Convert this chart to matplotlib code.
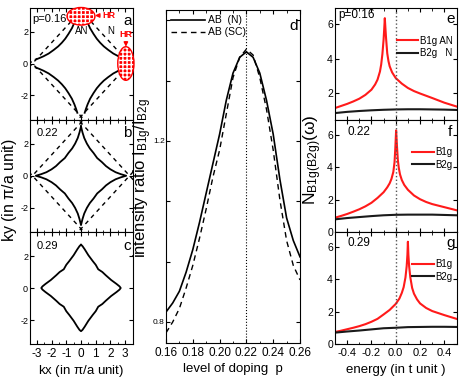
import numpy as np
import matplotlib
matplotlib.use("Agg")
import matplotlib.pyplot as plt
from matplotlib.patches import Ellipse

plt.rcParams['font.family'] = ['Liberation Sans', 'DejaVu Sans']
plt.rcParams['mathtext.default'] = 'regular'
plt.rcParams['hatch.linewidth'] = 1.0
plt.rcParams['axes.unicode_minus'] = False

# ---- Fermi surface data (one quadrant / one arc, the rest by symmetry) ----
# p = 0.16 : hole-like arc, upper-left quadrant
arc_a_x = [-3.08, -2.85, -2.55, -2.20, -1.85, -1.55, -1.30, -1.07, -0.85, -0.62, -0.45, -0.33, -0.25]
arc_a_y = [0.25, 0.33, 0.45, 0.62, 0.85, 1.07, 1.30, 1.55, 1.85, 2.20, 2.55, 2.85, 3.08]
# p = 0.22 : closed star, first quadrant
arc_b_x = [0.00, 0.10, 0.22, 0.40, 0.60, 0.85, 1.10, 1.42, 1.70, 2.00, 2.35, 2.70, 3.07]
arc_b_y = [3.07, 2.70, 2.35, 2.00, 1.70, 1.42, 1.10, 0.85, 0.60, 0.40, 0.22, 0.10, 0.00]
# p = 0.29 : closed rounded diamond, first quadrant
arc_c_x = [0.00, 0.10, 0.25, 0.50, 0.80, 1.00, 1.17, 1.45, 1.68, 2.05, 2.42, 2.62, 2.70]
arc_c_y = [2.70, 2.62, 2.42, 2.05, 1.68, 1.45, 1.17, 1.00, 0.80, 0.50, 0.25, 0.10, 0.00]
# dashed diamond (vertex) and overshoot
diamond_v = 3.3
diamond_ext = 0.25

# ---- panel d : intensity ratio vs doping ----
p_doping = [0.160, 0.165, 0.170, 0.175, 0.180, 0.185, 0.190, 0.195, 0.200, 0.205, 0.210,
            0.215, 0.220, 0.225, 0.230, 0.235, 0.240, 0.245, 0.250, 0.255, 0.260]
ratio_n = [0.822, 0.842, 0.868, 0.910, 0.960, 1.020, 1.085, 1.150, 1.215, 1.290, 1.350,
           1.385, 1.397, 1.385, 1.350, 1.290, 1.215, 1.115, 1.030, 0.980, 0.944]
ratio_sc = [0.776, 0.800, 0.830, 0.875, 0.925, 0.985, 1.050, 1.120, 1.180, 1.260, 1.340,
            1.385, 1.403, 1.390, 1.340, 1.270, 1.180, 1.070, 0.980, 0.925, 0.893]

# ---- panels e, f, g : Raman response vs energy ----
w_e = [-0.50, -0.45, -0.40, -0.35, -0.30, -0.25, -0.20, -0.17, -0.15, -0.13, -0.12, -0.11,
       -0.10, -0.095, -0.09, -0.085, -0.08, -0.07, -0.06, -0.05, -0.03, 0.0, 0.05, 0.10,
       0.15, 0.20, 0.30, 0.40, 0.50]
b1g_e = [1.14, 1.26, 1.38, 1.52, 1.68, 1.90, 2.20, 2.50, 2.78, 3.25, 3.65, 4.25,
         5.10, 5.70, 6.33, 5.75, 5.20, 4.30, 3.85, 3.55, 3.20, 2.87, 2.55, 2.30,
         2.12, 1.98, 1.72, 1.45, 1.23]
w_f = [-0.50, -0.45, -0.40, -0.35, -0.30, -0.25, -0.20, -0.15, -0.10, -0.07, -0.05, -0.035,
       -0.02, -0.01, -0.004, 0.003, 0.01, 0.017, 0.025, 0.035, 0.05, 0.07, 0.10, 0.15,
       0.20, 0.25, 0.30, 0.40, 0.50]
b1g_f = [0.88, 0.99, 1.11, 1.25, 1.40, 1.58, 1.80, 2.10, 2.45, 2.75, 3.00, 3.28,
         3.70, 4.30, 5.10, 6.26, 5.30, 4.45, 3.95, 3.55, 3.20, 2.90, 2.60, 2.25,
         2.02, 1.85, 1.72, 1.53, 1.34]
w_g = [-0.50, -0.45, -0.40, -0.35, -0.30, -0.25, -0.20, -0.15, -0.10, -0.05, 0.0, 0.03,
       0.05, 0.065, 0.08, 0.09, 0.096, 0.10, 0.104, 0.11, 0.12, 0.135, 0.15, 0.175,
       0.20, 0.25, 0.30, 0.40, 0.50]
b1g_g = [0.74, 0.82, 0.91, 1.00, 1.10, 1.22, 1.37, 1.55, 1.82, 2.10, 2.47, 2.80,
         3.15, 3.50, 4.10, 4.80, 5.50, 6.30, 5.50, 4.80, 4.10, 3.45, 3.10, 2.75,
         2.50, 2.22, 2.03, 1.78, 1.55]
w_b2g = [-0.5, -0.4, -0.3, -0.2, -0.1, 0.0, 0.1, 0.2, 0.3, 0.4, 0.5]
b2g_e = [0.85, 0.92, 0.97, 1.01, 1.04, 1.06, 1.07, 1.07, 1.06, 1.05, 1.03]
b2g_f = [0.78, 0.86, 0.92, 0.98, 1.03, 1.06, 1.07, 1.07, 1.07, 1.05, 1.03]
b2g_g = [0.70, 0.77, 0.83, 0.90, 0.97, 1.00, 1.04, 1.05, 1.06, 1.06, 1.05]

W, H = 463, 382
fig = plt.figure(figsize=(W / 100, H / 100), dpi=100)


def box(x0, y0, x1, y1):
    # pixel box -> figure fraction
    return [x0 / W, 1 - y1 / H, (x1 - x0) / W, (y1 - y0) / H]


def ticks_in(ax, size=7):
    ax.tick_params(direction='in', top=True, right=True, labelsize=size, length=3, pad=1.5)
    ax.tick_params(which='minor', direction='in', top=True, right=True, length=1.8)


# ---------------- left column ----------------
fs_axes = []
for i, (y0, y1) in enumerate([(7.5, 119.5), (119.5, 232), (232, 344)]):
    ax = fig.add_axes(box(29.5, y0, 132.5, y1))
    ax.set_xlim(-3.5, 3.5)
    ax.set_ylim(-3.5, 3.5)
    ax.set_yticks([-2, 0, 2])
    ax.set_xticks([-3, -2, -1, 0, 1, 2, 3])
    ax.set_xticks(np.arange(-3.5, 3.6, 0.5), minor=True)
    ticks_in(ax, 6.5)
    ax.tick_params(axis='y', pad=1)
    if i < 2:
        ax.tick_params(labelbottom=False)
    else:
        ax.tick_params(axis='x', labelsize=8.5, pad=3)
    fs_axes.append(ax)

lw_fs = 1.3
# panel a
ax = fs_axes[0]
for sx in (1, -1):
    for sy in (1, -1):
        ax.plot(np.multiply(arc_a_x, sx), np.multiply(arc_a_y, sy), color='black', lw=lw_fs)

# dashed diamonds (a, b)
for ax in fs_axes[:2]:
    v, e = diamond_v, diamond_ext
    for sx in (1, -1):
        for sy in (1, -1):
            ax.plot([sx * (v + e), sx * (-e)], [sy * (-e), sy * (v + e)],
                    ls=(0, (3, 3)), color='black', lw=1.0)

# panel b & c closed curves
for ax, xs, ys in [(fs_axes[1], arc_b_x, arc_b_y), (fs_axes[2], arc_c_x, arc_c_y)]:
    xs = np.array(xs)
    ys = np.array(ys)
    cx = np.concatenate([xs, xs[::-1], -xs, -xs[::-1]])
    cy = np.concatenate([ys, -ys[::-1], -ys, ys[::-1]])
    ax.plot(cx, cy, color='black', lw=lw_fs)

ax = fs_axes[0]
for (cx, cy, ew, eh) in [(0.0, 2.95, 1.9, 1.1), (3.05, 0.0, 1.1, 2.1)]:
    ax.add_patch(Ellipse((cx, cy), ew, eh, facecolor='red', edgecolor='white',
                         hatch='++++', lw=0, clip_on=False, zorder=5))
    ax.add_patch(Ellipse((cx, cy), ew, eh, facecolor='none', edgecolor='red',
                         lw=1.0, clip_on=False, zorder=6))
ax.annotate('HR', xy=(0.95, 3.0), xytext=(1.45, 3.0), color='red', fontsize=6.5,
            fontweight='bold', va='center', ha='left', annotation_clip=False,
            arrowprops=dict(arrowstyle='-|>', color='red', lw=1, mutation_scale=6,
                            shrinkA=0, shrinkB=0))
ax.annotate('HR', xy=(3.05, 1.05), xytext=(3.05, 1.8), color='red', fontsize=6.5,
            fontweight='bold', va='center', ha='center', annotation_clip=False,
            arrowprops=dict(arrowstyle='-|>', color='red', lw=1, mutation_scale=6,
                            shrinkA=0, shrinkB=0))
ax.text(0.05, 2.0, 'AN', fontsize=7, ha='center', va='center')
ax.text(2.0, 2.0, 'N', fontsize=7, ha='center', va='center')
ax.text(-3.3, 2.8, 'p=0.16', fontsize=8, ha='left', va='center')
ax.text(3.15, 2.65, 'a', fontsize=11, ha='center', va='center')
fs_axes[1].text(-3.0, 2.65, '0.22', fontsize=8, ha='left', va='center')
fs_axes[1].text(3.15, 2.65, 'b', fontsize=11, ha='center', va='center')
fs_axes[2].text(-3.0, 2.65, '0.29', fontsize=8, ha='left', va='center')
fs_axes[2].text(3.15, 2.65, 'c', fontsize=11, ha='center', va='center')
fs_axes[2].set_xlabel(r'kx (in $\pi$/a unit)', fontsize=9.5, labelpad=2)
fig.text(10 / W, 1 - 190 / H, r'ky (in $\pi$/a unit)', rotation=90, fontsize=11.5,
         ha='center', va='center')

# ---------------- panel d ----------------
axd = fig.add_axes(box(166, 10, 300, 343))
axd.plot(p_doping, ratio_n, color='black', lw=1.2, label='AB  (N)')
axd.plot(p_doping, ratio_sc, color='black', lw=1.0, ls=(0, (4, 3)), label='AB (SC)')
axd.axvline(0.22, color='black', ls=':', lw=0.8)
axd.set_xlim(0.16, 0.26)
axd.set_ylim(0.8 - 21 / 452.5, 1.2 + 131 / 452.5)
yt = [0.8 + k * 0.4 / 3 for k in range(6)]
axd.set_yticks(yt)
axd.set_yticklabels(['0.8', '', '', '1.2', '', ''])
axd.set_xticks([0.16, 0.18, 0.20, 0.22, 0.24, 0.26])
axd.set_xticklabels(['0.16', '0.18', '0.20', '0.22', '0.24', '0.26'])
axd.set_xticks(np.arange(0.16, 0.2601, 0.01), minor=True)
ticks_in(axd, 6)
axd.tick_params(axis='y', pad=1)
axd.tick_params(axis='x', labelsize=8.5, pad=3)
axd.legend(loc='upper left', frameon=False, fontsize=7.5, handlelength=3.2,
           borderaxespad=0.1, labelspacing=0.2, handletextpad=0.3)
axd.text(0.255, 1.455, 'd', fontsize=11, ha='center', va='center')
axd.set_xlabel('level of doping  p', fontsize=9.5, labelpad=3)
fig.text(143 / W, 1 - 178 / H, r'intensity ratio I$_{B1g}$/I$_{B2g}$', rotation=90,
         fontsize=12, ha='center', va='center')

# ---------------- panels e, f, g ----------------
rows = [
    (8.3, 120, w_e, b1g_e, b2g_e, ('B1g AN', 'B2g   N'), 'p=0.16', 'e', (0.45, 6.9), 0.94),
    (120, 232, w_f, b1g_f, b2g_f, ('B1g', 'B2g'), '0.22', 'f', (0.0, 6.9), 0.895),
    (232, 344, w_g, b1g_g, b2g_g, ('B1g', 'B2g'), '0.29', 'g', (0.0, 6.9), 0.90),
]
for i, (y0, y1, w, r, k, labs, ptxt, letter, ylim, ty) in enumerate(rows):
    ax = fig.add_axes(box(335, y0, 456.5, y1))
    ax.plot(w, r, color='#ff1a1a', lw=1.5, label=labs[0])
    ax.plot(w_b2g, k, color='#1a1a1a', lw=1.5, label=labs[1])
    ax.axvline(0.0, color='#555555', ls=':', lw=1.0)
    ax.set_xlim(-0.5, 0.5)
    ax.set_ylim(*ylim)
    ax.set_yticks([0, 2, 4, 6] if i else [2, 4, 6])
    ax.set_xticks([-0.4, -0.2, 0.0, 0.2, 0.4])
    ax.set_xticks(np.arange(-0.5, 0.51, 0.1), minor=True)
    ticks_in(ax, 7.5)
    if i < 2:
        ax.tick_params(labelbottom=False)
    else:
        ax.tick_params(axis='x', labelsize=8, pad=3)
        ax.set_xlabel('energy (in t unit )', fontsize=9.5, labelpad=4)
    ax.legend(loc='center right', bbox_to_anchor=(1.0, 0.655), frameon=False, fontsize=7,
              handlelength=2.2, labelspacing=0.25, handletextpad=0.2, borderaxespad=0.0)
    ax.text(0.03 if i == 0 else 0.1, ty, ptxt, transform=ax.transAxes, fontsize=8.5,
            ha='left', va='center')
    ax.text(0.95, ty - 0.04 if i == 0 else ty, letter, transform=ax.transAxes, fontsize=11,
            ha='center', va='center')

fig.text(313 / W, 1 - 160 / H, r'N$_{B1g(B2g)}$($\omega$)', rotation=90, fontsize=12.5,
         ha='center', va='center')

fig.savefig('out.png', dpi=100)
